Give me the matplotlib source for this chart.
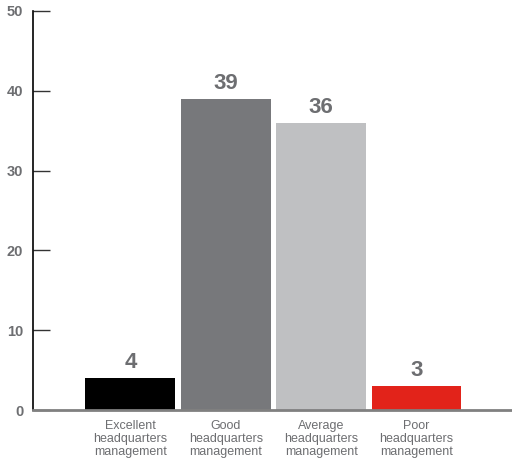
import matplotlib
matplotlib.use("Agg")
import matplotlib.pyplot as plt

categories = ["Excellent\nheadquarters\nmanagement", "Good\nheadquarters\nmanagement",
              "Average\nheadquarters\nmanagement", "Poor\nheadquarters\nmanagement"]
values = [4, 39, 36, 3]
colors = ["#000000", "#77787b", "#bfc0c2", "#e2231a"]
yticks = [0, 10, 20, 30, 40, 50]

plt.rcParams['font.family'] = ['Liberation Sans', 'DejaVu Sans']

fig = plt.figure(figsize=(5.12, 4.61), dpi=100)
ax = fig.add_axes([33/512, 51/461, 1 - 33/512, 399/461])

x = list(range(len(values)))
ax.bar(x, values, width=0.94, color=colors)
for xi, v in zip(x, values):
    ax.text(xi, v + 0.6, str(v), ha='center', va='bottom', fontsize=16,
            fontweight='bold', color='#6d6e71')

ax.set_xlim(-1.02, 4.0)
ax.set_ylim(0, 50)
ax.set_yticks(yticks)
ax.set_yticklabels([str(t) for t in yticks], fontweight='bold', color='#6d6e71',
                   fontsize=10.5)
ax.tick_params(axis='y', direction='in', length=12, width=1, color='#333333', pad=7)
ax.set_xticks(x)
ax.set_xticklabels(categories, fontsize=9, color='#6d6e71', linespacing=1.1)
ax.tick_params(axis='x', length=0, pad=7)

for s in ['top', 'right']:
    ax.spines[s].set_visible(False)
ax.spines['left'].set_color('#000000')
ax.spines['left'].set_linewidth(1.2)
ax.spines['bottom'].set_color('#808080')
ax.spines['bottom'].set_linewidth(2)

fig.savefig("out.png", dpi=100)
